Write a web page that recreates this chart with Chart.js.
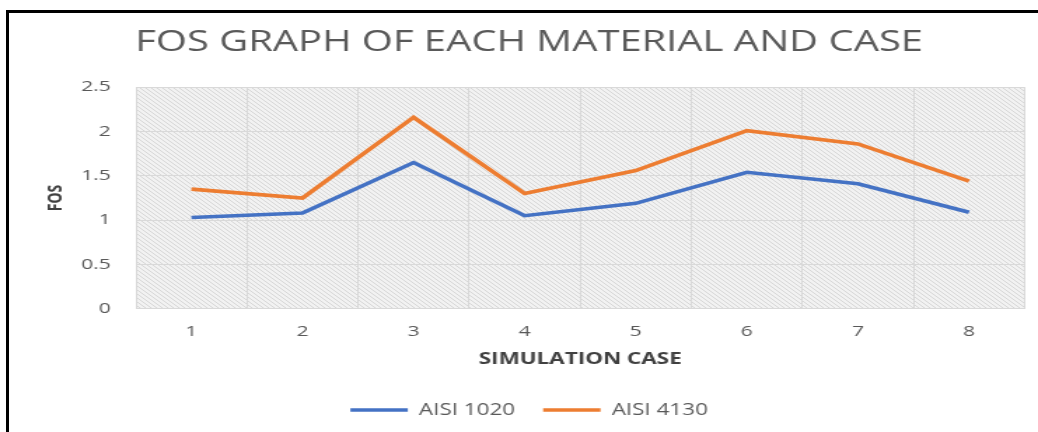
<!DOCTYPE html>
<html>
<head>
<meta charset="utf-8">
<script src="https://cdn.jsdelivr.net/npm/chart.js@4"></script>
<style>
  html, body { margin: 0; padding: 0; background: #fff; }
  #wrap { position: relative; width: 1038px; height: 432px; overflow: hidden; }
  /* the source picture is stretched sideways, so the chart is drawn narrow and widened */
  #stage { position: absolute; left: 0; top: 0; width: 741px; height: 432px;
           transform: scaleX(1.4008); transform-origin: 0 0; }
  #frame { position: absolute; left: 6px; top: 10px; width: 1100px; height: 500px;
           border-top: 3px solid #000; border-left: 3px solid #000; pointer-events: none; }
</style>
</head>
<body>
<div id="wrap">
  <div id="stage"><canvas id="fosChart" width="741" height="432"></canvas></div>
  <div id="frame"></div>
</div>
<script>
// simulation cases and factor of safety per material
const cases = ['1', '2', '3', '4', '5', '6', '7', '8'];
const aisi1020 = [1.03, 1.08, 1.65, 1.05, 1.19, 1.54, 1.41, 1.09];
const aisi4130 = [1.35, 1.25, 2.16, 1.30, 1.56, 2.01, 1.86, 1.44];
const yTicks = [0, 0.5, 1, 1.5, 2, 2.5];

const grey = '#595959';
const dark = '#404040';

// light diagonal hatch behind the plot area
function makeHatch() {
    const c = document.createElement('canvas');
    c.width = 4; c.height = 4;
    const g = c.getContext('2d');
    g.fillStyle = '#f2f2f2';
    g.fillRect(0, 0, 4, 4);
    g.strokeStyle = '#d4d4d4';
    g.lineWidth = 0.9;
    g.beginPath();
    g.moveTo(-1, -1); g.lineTo(5, 5);
    g.moveTo(-1, 3); g.lineTo(1, 5);
    g.moveTo(3, -1); g.lineTo(5, 1);
    g.stroke();
    return g.createPattern(c, 'repeat');
}

const hatchPlugin = {
    id: 'hatch',
    beforeDraw(chart) {
        const { ctx, chartArea: a } = chart;
        ctx.save();
        ctx.fillStyle = makeHatch();
        ctx.fillRect(a.left, a.top, a.right - a.left, a.bottom - a.top);
        ctx.restore();
    }
};

new Chart(document.getElementById('fosChart'), {
    type: 'line',
    data: {
        labels: cases,
        datasets: [
            { label: 'AISI 1020', data: aisi1020, borderColor: '#4472C4', backgroundColor: '#4472C4',
              borderWidth: 3.6, pointRadius: 0, tension: 0 },
            { label: 'AISI 4130', data: aisi4130, borderColor: '#ED7D31', backgroundColor: '#ED7D31',
              borderWidth: 3.6, pointRadius: 0, tension: 0 }
        ]
    },
    options: {
        responsive: false,
        animation: false,
        layout: { padding: { left: 24, right: 9.6, top: 0, bottom: 4 } },
        plugins: {
            title: {
                display: true,
                text: 'FOS GRAPH OF EACH MATERIAL AND CASE',
                color: grey,
                font: { family: 'Open Sans', size: 28.5, weight: 'normal' },
                padding: { top: 26, bottom: 27 }
            },
            legend: {
                position: 'bottom',
                labels: {
                    color: grey,
                    font: { family: 'Open Sans', size: 16 },
                    boxWidth: 41,
                    boxHeight: 3.5,
                    padding: 20,
                    generateLabels: chart => Chart.defaults.plugins.legend.labels.generateLabels(chart)
                        .map(item => ({ ...item, lineWidth: 0 }))
                }
            },
            tooltip: { enabled: false }
        },
        scales: {
            x: {
                offset: true,
                grid: { color: '#d9d9d9', offset: true, drawTicks: false },
                border: { display: false },
                ticks: { color: grey, font: { family: 'Open Sans', size: 15 }, padding: 14 },
                title: { display: true, text: 'SIMULATION CASE', color: dark,
                         font: { family: 'Open Sans', size: 16, weight: 'bold' }, padding: { top: -4.5, bottom: 12.5 } }
            },
            y: {
                min: yTicks[0],
                max: yTicks[yTicks.length - 1],
                afterBuildTicks(scale) { scale.ticks = yTicks.map(v => ({ value: v })); },
                afterFit(scale) { scale.width = 73; },
                grid: { color: '#d9d9d9', drawTicks: false },
                border: { display: false },
                ticks: { color: grey, font: { family: 'Open Sans', size: 15 }, padding: 18,
                         callback: v => String(v) },
                title: { display: true, text: 'FOS', color: dark,
                         font: { family: 'Open Sans', size: 14, weight: 'bold' }, padding: { top: 7.5, bottom: 0 } }
            }
        }
    },
    plugins: [hatchPlugin]
});
</script>
</body>
</html>
